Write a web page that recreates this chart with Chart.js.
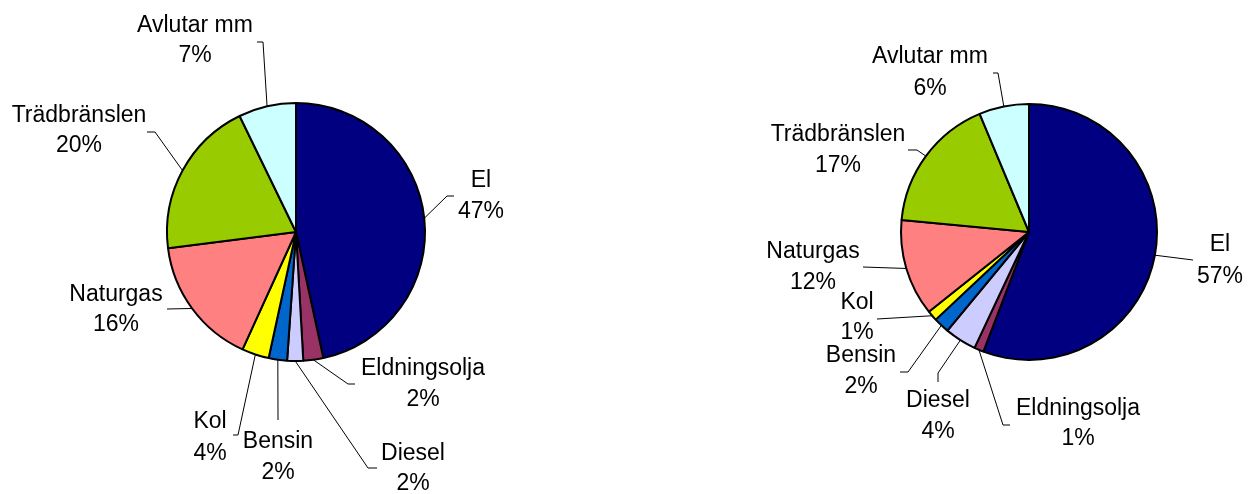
<!DOCTYPE html>
<html>
<head>
<meta charset="utf-8">
<script src="https://cdn.jsdelivr.net/npm/chart.js@4.4.1/dist/chart.umd.min.js"></script>
<style>
  html, body { margin: 0; padding: 0; background: #ffffff; }
  #wrap { position: relative; width: 1255px; height: 494px; background: #ffffff; overflow: hidden; }
  #leftBox { position: absolute; left: 0; top: 0; width: 627px; height: 494px; }
  #rightBox { position: absolute; left: 627px; top: 0; width: 628px; height: 494px; }
</style>
</head>
<body>
<div id="wrap">
  <div id="leftBox"><canvas id="leftPie" width="627" height="494"></canvas></div>
  <div id="rightBox"><canvas id="rightPie" width="628" height="494"></canvas></div>
</div>
<script>
// ---- Data ----
const categories = ['El', 'Eldningsolja', 'Diesel', 'Bensin', 'Kol', 'Naturgas', 'Trädbränslen', 'Avlutar mm'];
const leftValues = [46.6, 2.5, 2.0, 2.3, 3.4, 16.2, 19.8, 7.2];
const leftPctLabels = ['47%', '2%', '2%', '2%', '4%', '16%', '20%', '7%'];
const rightValues = [55.8, 1.2, 4.0, 2.0, 1.3, 12.2, 17.2, 6.3];
const rightPctLabels = ['57%', '1%', '4%', '2%', '1%', '12%', '17%', '6%'];

// ---- Styles ----
const sliceColors = ['#000080', '#993366', '#CCCCFF', '#0066CC', '#FFFF00', '#FF8080', '#99CC00', '#CCFFFF'];
const FONT = '23px "Liberation Sans", Arial, sans-serif';

// Label placement relative to the pie centre: [x, baseline line 1, baseline line 2]
const leftLabelPos = [
  [185, -45, -14], [127, 143, 174], [117, 228, 258], [-18, 216, 247],
  [-86, 196, 228], [-180, 69, 99], [-217, -110, -80], [-101, -200, -170]
];
const leftLeaders = [
  [[151, -36], [158, -36]], [[52, 152], [59, 152]], [[72, 236], [81, 236]], [[-18, 188]],
  [[-58, 203], [-63, 203]], [[-129, 77]], [[-141, -100], [-149, -100]], [[-33, -190], [-39, -190]]
];
const rightLabelPos = [
  [191, 19, 51], [49, 183, 213], [-91, 175, 206], [-168, 130, 161],
  [-172, 77, 107], [-216, 26, 57], [-191, -91, -60], [-99, -169, -137]
];
const rightLeaders = [
  [[164, 28]], [[-26, 193], [-19, 193]], [[-91, 141], [-91, 150]], [[-121, 140], [-129, 140]],
  [[-152, 87]], [[-166, 35]], [[-112, -82], [-121, -82]], [[-31, -159], [-36, -159]]
];

function labelPlugin(pctLabels, labelPos, leaders) {
  return {
    id: 'outsideLabels',
    afterDatasetsDraw(chart) {
      const ctx = chart.ctx;
      const meta = chart.getDatasetMeta(0);
      ctx.save();
      meta.data.forEach((arc, i) => {
        const p = arc.getProps(['x', 'y', 'startAngle', 'endAngle', 'outerRadius'], true);
        const mid = (p.startAngle + p.endAngle) / 2;
        const ax = p.x + Math.cos(mid) * p.outerRadius;
        const ay = p.y + Math.sin(mid) * p.outerRadius;
        // leader line
        ctx.beginPath();
        ctx.strokeStyle = '#000000';
        ctx.lineWidth = 1;
        ctx.moveTo(ax, ay);
        leaders[i].forEach(pt => ctx.lineTo(p.x + pt[0], p.y + pt[1]));
        ctx.stroke();
        // text
        const lp = labelPos[i];
        ctx.fillStyle = '#000000';
        ctx.font = FONT;
        ctx.textAlign = 'center';
        ctx.textBaseline = 'alphabetic';
        ctx.fillText(chart.data.labels[i], p.x + lp[0], p.y + lp[1]);
        ctx.fillText(pctLabels[i], p.x + lp[0], p.y + lp[2]);
      });
      ctx.restore();
    }
  };
}

function makePie(canvasId, values, pctLabels, padding, radius, labelPos, leaders) {
  return new Chart(document.getElementById(canvasId), {
    type: 'pie',
    data: {
      labels: categories,
      datasets: [{
        data: values,
        backgroundColor: sliceColors,
        borderColor: '#000000',
        borderWidth: 2
      }]
    },
    options: {
      responsive: false,
      animation: false,
      radius: radius,
      layout: { padding: padding },
      plugins: {
        legend: { display: false },
        tooltip: { enabled: false }
      }
    },
    plugins: [labelPlugin(pctLabels, labelPos, leaders)]
  });
}

// Left pie centre at (296,232); right pie centre at (1029,232) on the page
makePie('leftPie', leftValues, leftPctLabels, { left: 0, right: 35, top: 0, bottom: 30 }, 129, leftLabelPos, leftLeaders);
makePie('rightPie', rightValues, rightPctLabels, { left: 176, right: 0, top: 0, bottom: 30 }, 128, rightLabelPos, rightLeaders);
</script>
</body>
</html>
